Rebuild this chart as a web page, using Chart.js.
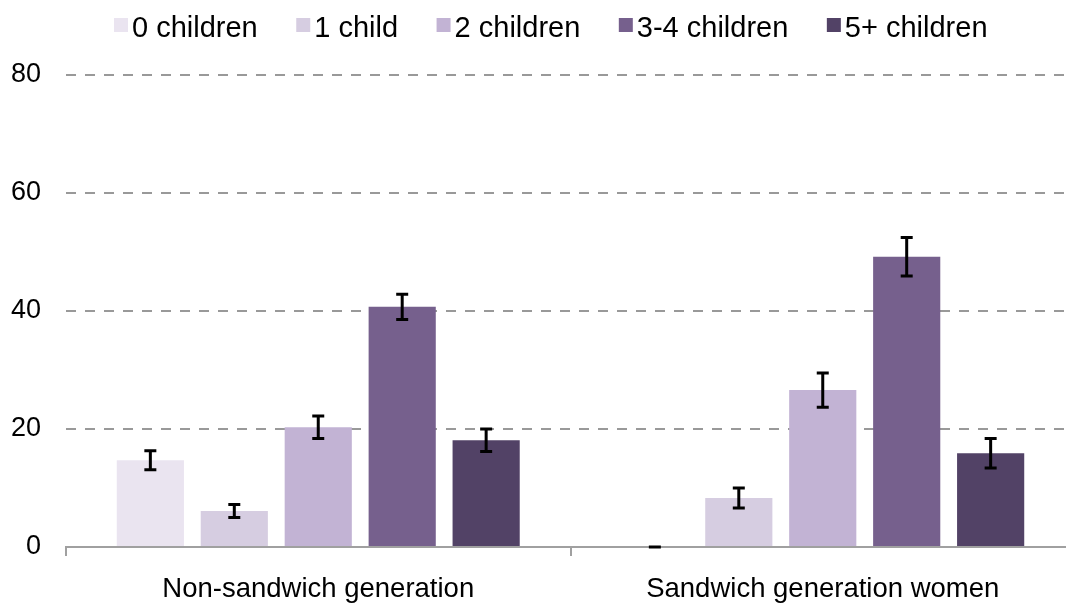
<!DOCTYPE html>
<html>
<head>
<meta charset="utf-8">
<script src="https://cdn.jsdelivr.net/npm/chart.js@4/dist/chart.umd.min.js"></script>
<style>
  html, body { margin: 0; padding: 0; background: #fff; overflow: hidden; }
  #wrap { width: 1076px; height: 605px; position: relative; }
</style>
</head>
<body>
<div id="wrap"><canvas id="chart"></canvas></div>
<script>
// Groups along the x axis
const categories = ['Non-sandwich generation', 'Sandwich generation women'];

// Number of children, one series each
const seriesNames = ['0 children', '1 child', '2 children', '3-4 children', '5+ children'];
const seriesColors = ['#EAE4F0', '#D6CDE1', '#C2B3D4', '#76608D', '#524266'];

// Percentages per series, [non-sandwich, sandwich women]
const children0 = [14.7, 0];
const children1 = [6.1, 8.3];
const children2 = [20.3, 26.6];
const children34 = [40.7, 49.2];
const children5plus = [18.1, 15.9];

// Half-widths of the error bars, same layout
const err0 = [1.6, 0];
const err1 = [1.1, 1.7];
const err2 = [1.9, 2.9];
const err34 = [2.15, 3.25];
const err5plus = [1.9, 2.5];

// Y axis ticks
const yTicks = [0, 20, 40, 60, 80];

const seriesValues = [children0, children1, children2, children34, children5plus];
const seriesErrors = [err0, err1, err2, err34, err5plus];

const FONT = '"Liberation Sans", Arial, Helvetica, sans-serif';

// Error bars drawn on top of each bar
const errorBarPlugin = {
  id: 'errorBars',
  afterDatasetsDraw(chart) {
    const ctx = chart.ctx;
    const yScale = chart.scales.y;
    ctx.save();
    ctx.strokeStyle = '#000';
    ctx.lineWidth = 3;
    chart.data.datasets.forEach((ds, di) => {
      const meta = chart.getDatasetMeta(di);
      meta.data.forEach((bar, i) => {
        const v = ds.data[i];
        const e = ds.errors[i];
        const x = bar.x;
        const yTop = yScale.getPixelForValue(v + e);
        const yBot = yScale.getPixelForValue(v - e);
        const half = 6;
        ctx.beginPath();
        ctx.moveTo(x, yTop); ctx.lineTo(x, yBot);
        ctx.moveTo(x - half, yTop); ctx.lineTo(x + half, yTop);
        ctx.moveTo(x - half, yBot); ctx.lineTo(x + half, yBot);
        ctx.stroke();
      });
    });
    ctx.restore();
  }
};

// Legend row across the top
const topLegendPlugin = {
  id: 'topLegend',
  afterDraw(chart) {
    const ctx = chart.ctx;
    ctx.save();
    ctx.font = '29px ' + FONT;
    ctx.textBaseline = 'alphabetic';
    ctx.textAlign = 'left';
    const box = 14, gapText = 4, gapItem = 38.5;
    let x = 114;
    chart.data.datasets.forEach(ds => {
      ctx.fillStyle = ds.backgroundColor;
      ctx.fillRect(x, 18, box, box);
      ctx.fillStyle = '#000';
      const tx = x + box + gapText;
      ctx.fillText(ds.label, tx, 37);
      x = tx + ctx.measureText(ds.label).width + gapItem;
    });
    ctx.restore();
  }
};

const datasets = seriesNames.map((name, i) => ({
  label: name,
  data: seriesValues[i],
  errors: seriesErrors[i],
  backgroundColor: seriesColors[i],
  borderWidth: 0,
  categoryPercentage: 0.832,
  barPercentage: 0.8
}));

new Chart(document.getElementById('chart'), {
  type: 'bar',
  data: { labels: categories, datasets },
  options: {
    responsive: true,
    maintainAspectRatio: false,
    animation: false,
    layout: { padding: { top: 75, right: 1, left: 0, bottom: 0 } },
    plugins: {
      legend: { display: false },
      tooltip: { enabled: false }
    },
    scales: {
      x: {
        afterFit(scale) { scale.height = 58; },
        grid: {
          offset: true,
          drawOnChartArea: false,
          drawTicks: true,
          tickLength: 9,
          color: '#A0A0A0',
          lineWidth: 2
        },
        border: { display: true, color: '#A0A0A0', width: 2 },
        ticks: {
          color: '#000',
          padding: 17,
          font: { family: FONT, size: 27.5 }
        }
      },
      y: {
        min: 0,
        max: 80,
        afterFit(scale) { scale.width = 66; },
        afterBuildTicks(scale) { scale.ticks = yTicks.map(v => ({ value: v })); },
        border: { display: false, dash: [10, 9] },
        grid: {
          drawTicks: false,
          color: ctx => (ctx.tick && ctx.tick.value === 0) ? 'rgba(0,0,0,0)' : '#999999',
          lineWidth: 2
        },
        ticks: {
          color: '#000',
          padding: 25,
          font: { family: FONT, size: 27 }
        }
      }
    }
  },
  plugins: [errorBarPlugin, topLegendPlugin]
});
</script>
</body>
</html>
